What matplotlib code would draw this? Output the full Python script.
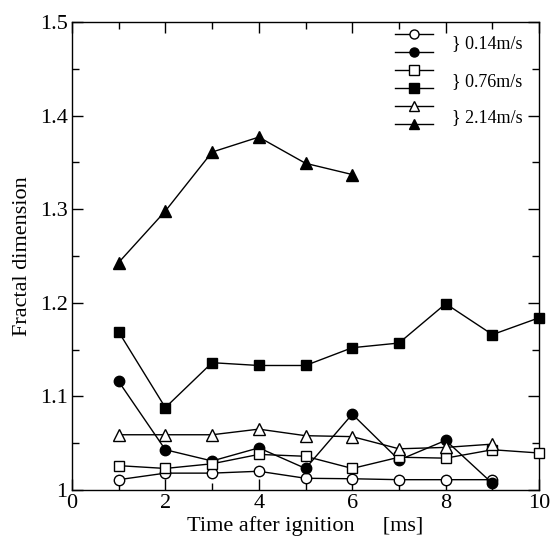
import numpy as np
import matplotlib
matplotlib.use("Agg")
import matplotlib.pyplot as plt
from matplotlib.ticker import MultipleLocator
from matplotlib.lines import Line2D

plt.rcParams['font.family'] = ['Liberation Serif', 'DejaVu Serif']

# time after ignition [ms]
t9 = [1, 2, 3, 4, 5, 6, 7, 8, 9]
t10 = [1, 2, 3, 4, 5, 6, 7, 8, 9, 10]
t6 = [1, 2, 3, 4, 5, 6]

# 0.14 m/s
open_circle = [1.011, 1.018, 1.018, 1.020, 1.0125, 1.012, 1.011, 1.011, 1.011]
filled_circle = [1.116, 1.043, 1.031, 1.045, 1.023, 1.081, 1.032, 1.053, 1.007]
# 0.76 m/s
open_square = [1.026, 1.023, 1.028, 1.038, 1.036, 1.023, 1.035, 1.034, 1.043, 1.0395]
filled_square = [1.169, 1.088, 1.136, 1.133, 1.133, 1.152, 1.157, 1.199, 1.166, 1.184]
# 2.14 m/s
open_triangle = [1.059, 1.059, 1.059, 1.065, 1.058, 1.057, 1.044, 1.0455, 1.049]
filled_triangle = [1.243, 1.298, 1.361, 1.377, 1.349, 1.337]

speed_labels = ['} 0.14m/s', '} 0.76m/s', '} 2.14m/s']

fig = plt.figure(figsize=(5.53, 5.44), dpi=100)
ax = fig.add_axes([0.130, 0.0993, 0.845, 0.8603])

series = [
    (t9, open_circle, 'o', 'white'),
    (t9, filled_circle, 'o', 'black'),
    (t10, open_square, 's', 'white'),
    (t10, filled_square, 's', 'black'),
    (t9, open_triangle, '^', 'white'),
    (t6, filled_triangle, '^', 'black'),
]

for x, y, m, fc in series:
    ax.plot(x, y, color='black', lw=1.0, marker=m, ms=7.5 if m != '^' else 8.5,
            mfc=fc, mec='black', mew=1.0, clip_on=False, zorder=3)

ax.set_xlim(0, 10)
ax.set_ylim(1.0, 1.5)
ax.xaxis.set_major_locator(MultipleLocator(2))
ax.xaxis.set_minor_locator(MultipleLocator(1))
ax.yaxis.set_minor_locator(MultipleLocator(0.05))
ax.set_yticks([1.0, 1.1, 1.2, 1.3, 1.4, 1.5])
ax.set_yticklabels(['1', '1.1', '1.2', '1.3', '1.4', '1.5'])
ax.tick_params(which='both', direction='in', top=True, right=True, labelsize=16, width=1)
ax.tick_params(which='major', length=8, pad=3)
ax.tick_params(which='minor', length=5)
for s in ax.spines.values():
    s.set_linewidth(1.0)

ax.set_xlabel('Time after ignition     [ms]', fontsize=16, labelpad=2)
ax.set_ylabel('Fractal dimension', fontsize=16, labelpad=6)

# legend: symbols paired, one label per pair
handles = [Line2D([], [], color='black', lw=1.0, marker=m, ms=6.5 if m != '^' else 7.5,
                  mfc=fc, mec='black') for _, _, m, fc in series]
ax.legend(handles, [''] * 6, loc='upper left', bbox_to_anchor=(0.692, 0.986),
          frameon=False, handlelength=2.7, labelspacing=0.37, borderaxespad=0.0,
          borderpad=0.0, handletextpad=0.0, fontsize=10)
for i, ty in enumerate([0.953, 0.872, 0.795]):
    ax.text(0.814, ty, speed_labels[i], transform=ax.transAxes,
            fontsize=13, va='center', ha='left')

fig.savefig('out.png', dpi=100)
